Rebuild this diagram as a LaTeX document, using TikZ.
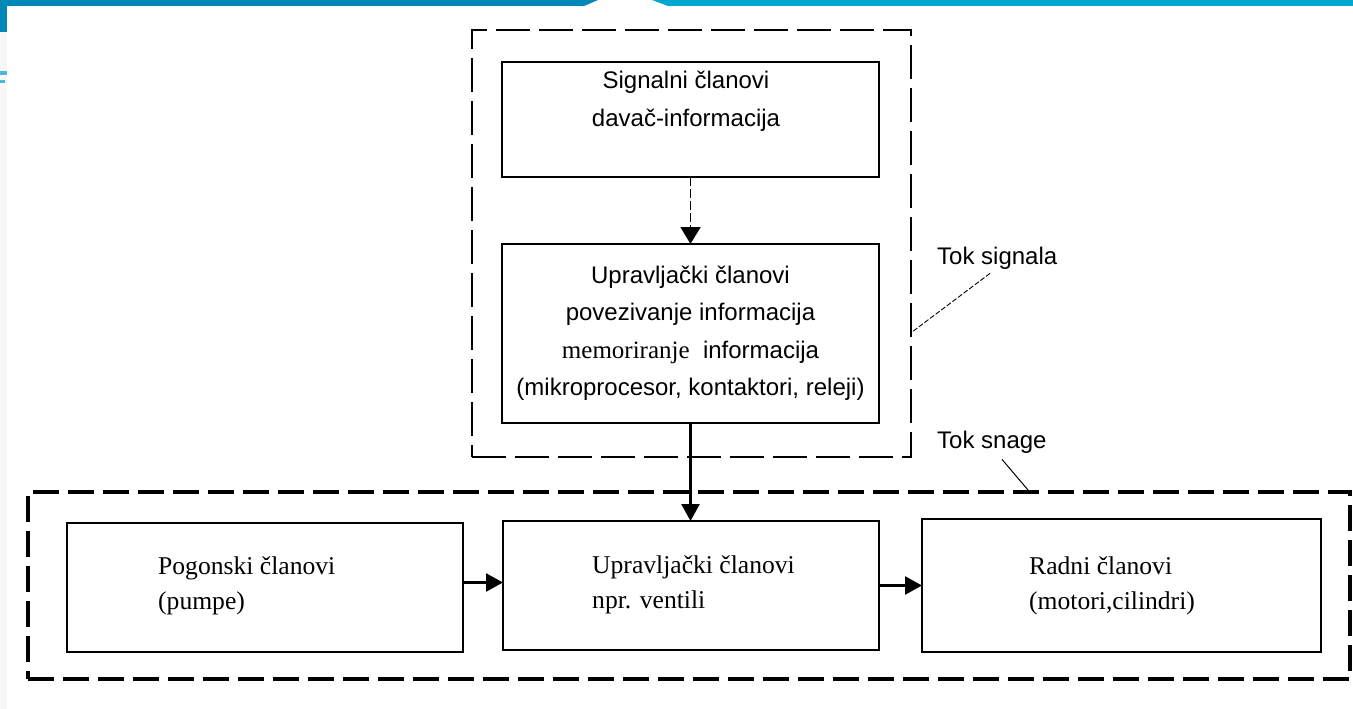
\documentclass[tikz,border=0pt]{standalone}
\usepackage{fontspec}
\setmainfont{Liberation Serif}
\newfontfamily\sansf{Liberation Sans}
\usetikzlibrary{arrows.meta,calc}
\definecolor{barDark}{HTML}{0088B9}
\definecolor{barLight}{HTML}{00A7CF}
\definecolor{barMark}{HTML}{4DB8DC}
\begin{document}
\begin{tikzpicture}[x=1pt,y=-1pt,
  box/.style={draw, line width=2.5pt, inner sep=0pt, outer sep=0pt},
  sanst/.style={font=\sansf\fontsize{24}{37.5}\selectfont, align=center, inner sep=0pt},
  seriftxt/.style={font=\fontsize{25.6}{35}\selectfont, align=left, anchor=west, inner sep=0pt},
  lbl/.style={font=\sansf\fontsize{24}{28}\selectfont, anchor=west, inner sep=0pt},
  arr/.style={line width=2.5pt, -{Triangle[length=17pt,width=18pt]}},
  sigarr/.style={line width=1.6pt, dash pattern=on 9pt off 3pt, -{Triangle[length=17pt,width=20pt]}},
  zoneS/.style={draw, line width=2pt, dash pattern=on 34pt off 9pt, inner sep=0pt, outer sep=0pt},
  zoneP/.style={draw, line width=4pt, dash pattern=on 26pt off 9pt, inner sep=0pt, outer sep=0pt},
  leaderS/.style={line width=0.9pt, dash pattern=on 5pt off 2pt},
  leaderP/.style={line width=1pt}
]
\useasboundingbox (0,0) rectangle (1353,709);
% slide decoration
\fill[gray!6] (0,32) rectangle (7,709);
\fill[barDark] (0,0) -- (598,0) -- (584,6) -- (0,6) -- cycle;
\fill[barDark] (0,0) rectangle (7,32);
\fill[barLight] (652,0) -- (1353,0) -- (1353,6) -- (668,6) -- cycle;
\fill[barMark] (0,71) rectangle (7,75);
\fill[barMark] (0,80) rectangle (5,83);

% zones
\node[zoneS, minimum width=439pt, minimum height=427pt] (sigzone) at (691.5,243.5) {};
\node[zoneP, minimum width=1322pt, minimum height=187pt] (powzone) at (689,585.5) {};

% signal boxes
\node[box, minimum width=377pt, minimum height=115pt] (sig) at (690.5,119.5) {};
\node[sanst] (sigtxt) at (686,101.5) {Signalni članovi\\davač-informacija};
\node[box, sanst, minimum width=377pt, minimum height=179pt] (upr) at (690.5,333.5)
  {Upravljački članovi\\povezivanje informacija\\{\rmfamily\fontsize{25}{37.5}\selectfont memoriranje}\ \ informacija\\(mikroprocesor, kontaktori, releji)};

% power boxes
\node[box, minimum width=396pt, minimum height=129pt] (pog) at (265,587.5) {};
\node[box, minimum width=376pt, minimum height=129pt] (mid) at (691,585.5) {};
\node[box, minimum width=399pt, minimum height=133pt] (rad) at (1121.5,585.5) {};
\node[seriftxt] (pogtxt) at (158,585.5) {Pogonski članovi\\(pumpe)};
\node[seriftxt] (midtxt) at (592,584.5) {Upravljački članovi\\npr. ventili};
\node[seriftxt] (radtxt) at (1029,586) {Radni članovi\\(motori,cilindri)};

% connectors
\draw[sigarr] (sig.south) -- (upr.north);
\draw[arr] (upr.south) -- (upr.south |- mid.north);
\draw[arr] ([yshift=5pt]pog.east) -- ([yshift=5pt]pog.east -| mid.west);
\draw[arr] (mid.east) -- (mid.east -| rad.west);

% labels
\node[lbl] (toksig) at (937,258) {Tok signala};
\node[lbl] (toksn) at (937,442) {Tok snage};
\coordinate (sigpt) at (912,332);
\coordinate (powpt) at (1028,490);
\draw[leaderS] ($(toksig.south west)+(53,4)$) -- (sigpt);
\draw[leaderP] ($(toksn.south west)+(65,6)$) -- (powpt);
\end{tikzpicture}
\end{document}
